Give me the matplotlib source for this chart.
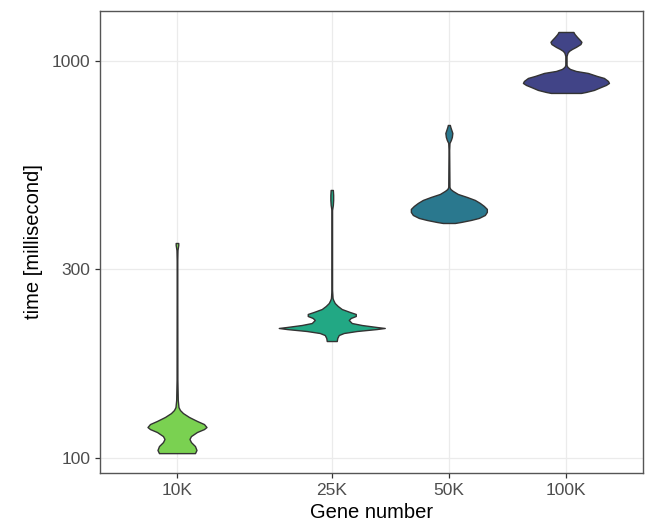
import numpy as np
import matplotlib.pyplot as plt

plt.rcParams['font.family'] = ['Liberation Sans', 'DejaVu Sans']

# -------------------------
# Data (violin outlines)
# time in ms, density = relative half-width of the violin
# -------------------------

genes = [10000, 25000, 50000, 100000]
gene_labels = ['10K', '25K', '50K', '100K']
colors = ['#7AD151', '#22A884', '#2A788E', '#414487']

time_10k = [102.9, 104.8, 107.2, 109.7, 111.7, 113.6, 116.3, 118.3, 119.7, 121.8,
            124.0, 126.9, 129.8, 132.1, 134.4, 140.0, 157.3, 250.0, 315.0, 334.0,
            344.0, 348.0]
dens_10k = [18, 19.5, 18, 14, 12.5, 14, 20, 27, 29.5, 27,
            20, 12, 6, 3, 1.5, 0.8, 0.4, 0.3, 0.3, 0.5,
            1.3, 1.3]

time_25k = [197.1, 200.6, 204.1, 206.5, 208.9, 211.3, 212.6, 213.8, 216.3, 218.8,
            222.7, 225.3, 227.9, 230.6, 233.3, 237.3, 241.5, 245.7, 250.0, 252.9,
            265.0, 421.5, 433.9, 446.7, 459.8, 473.3]
dens_25k = [5, 5.5, 7, 12, 25, 45, 53, 45, 30, 20,
            17, 19, 24, 24, 18, 10, 6, 3, 1.5, 0.8,
            0.3, 0.3, 1.1, 1.4, 1.4, 1.1]

time_50k = [390.8, 393.1, 397.7, 402.4, 409.4, 416.7, 424.0, 431.4, 439.0, 446.7,
            454.5, 462.4, 470.6, 476.0, 481.5, 596.9, 621.6, 632.4, 643.6, 658.7,
            670.2, 682.0, 689.9]
dens_50k = [6, 12, 22, 30, 36, 38, 38, 35, 31, 26,
            18, 9, 4, 1.5, 0.6, 0.3, 0.6, 2, 3, 3.5,
            2.5, 1.5, 1]

time_100k = [830.7, 835.5, 845.3, 860.0, 870.2, 880.3, 890.6, 906.2, 916.7, 932.8,
             943.6, 954.8, 965.9, 977.0, 1029, 1048, 1060, 1072, 1085, 1103,
             1117, 1129, 1150, 1170, 1183]
dens_100k = [15, 20, 28, 35, 40, 43, 42, 38, 31, 22,
             10, 4, 1.5, 0.6, 0.6, 1.5, 3, 6, 10, 14.5,
             15.5, 14, 11, 8.5, 7.5]

times = [time_10k, time_25k, time_50k, time_100k]
dens = [dens_10k, dens_25k, dens_50k, dens_100k]

# -------------------------
# Plot
# -------------------------

fig = plt.figure(figsize=(6.49, 5.22), dpi=100)
ax = fig.add_axes([100 / 649, 49 / 522, 543 / 649, 462 / 522])

width_scale = 1 / 389  # decades of x per density unit

for g, t, d, c in zip(genes, times, dens, colors):
    hw = np.array(d) * width_scale
    lg = np.log10(g)
    ax.fill_betweenx(t, 10 ** (lg - hw), 10 ** (lg + hw),
                     facecolor=c, edgecolor='#333333', linewidth=1.0, zorder=3)

ax.set_xscale('log')
ax.set_yscale('log')
ax.set_xlim(6340, 157800)
ax.set_ylim(91.7, 1336)

ax.set_xticks(genes)
ax.set_xticklabels(gene_labels)
ax.set_yticks([100, 300, 1000])
ax.set_yticklabels(['100', '300', '1000'])
ax.minorticks_off()

ax.grid(True, color='#EBEBEB', linewidth=0.9, zorder=0)
ax.set_axisbelow(True)

for s in ax.spines.values():
    s.set_color('#555555')
    s.set_linewidth(1.0)

ax.tick_params(axis='both', colors='#333333', labelcolor='#4D4D4D',
               labelsize=12.5, length=3.5, width=0.9, pad=3.5)

ax.set_xlabel('Gene number', fontsize=14.5, labelpad=4)
ax.set_ylabel('time [millisecond]', fontsize=14.5, labelpad=6)

plt.savefig('out.png', dpi=100)
plt.close()
